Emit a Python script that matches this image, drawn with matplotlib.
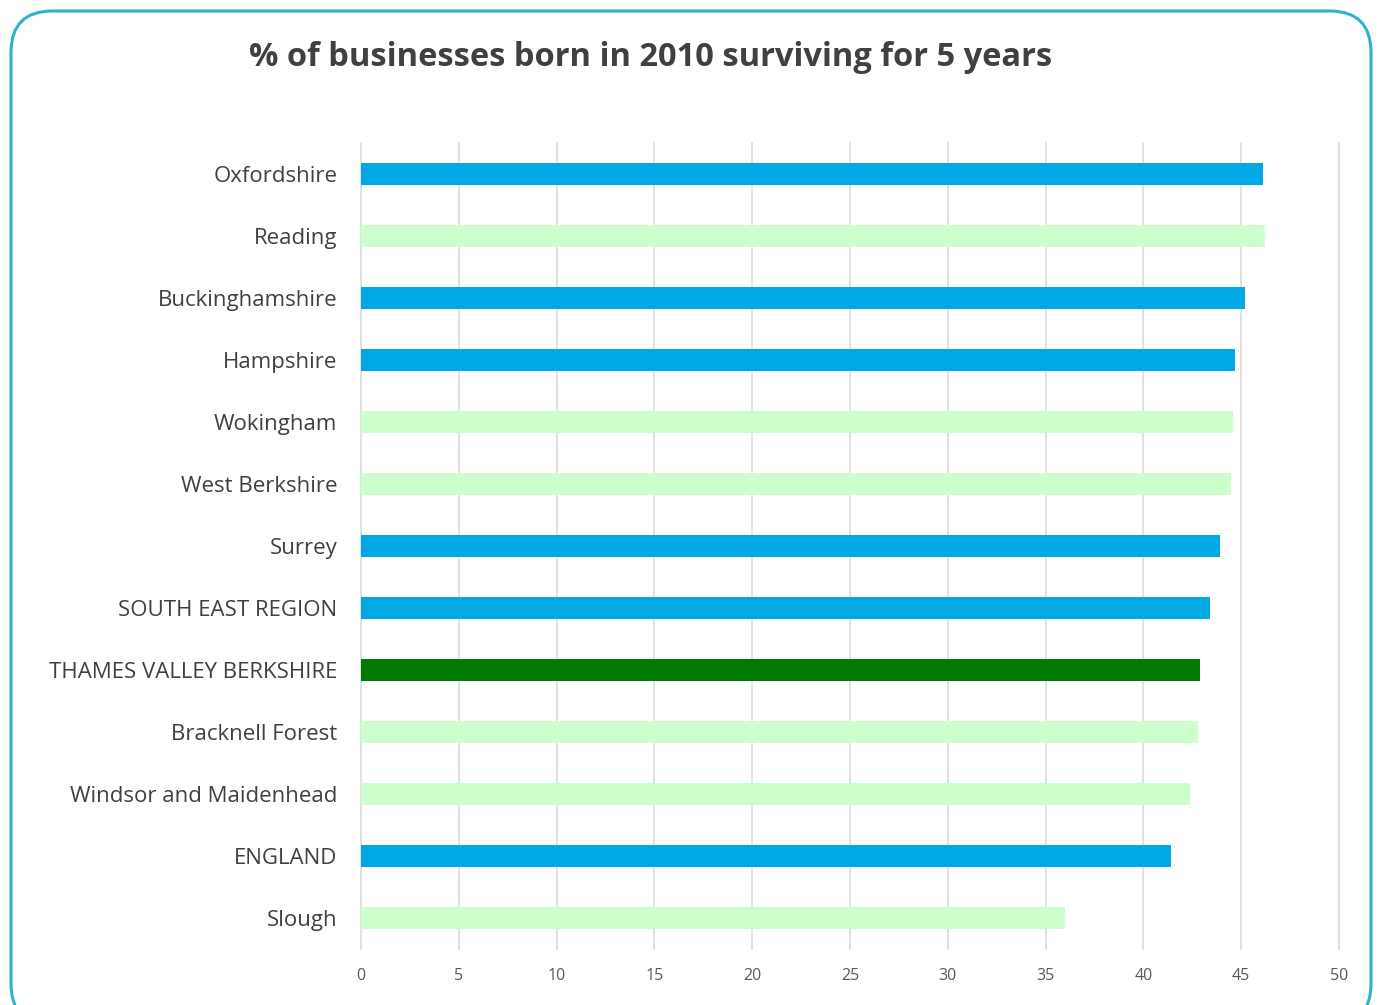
import matplotlib
matplotlib.use("Agg")
import matplotlib.pyplot as plt
from matplotlib.patches import FancyBboxPatch

categories = ["Oxfordshire", "Reading", "Buckinghamshire", "Hampshire", "Wokingham",
              "West Berkshire", "Surrey", "SOUTH EAST REGION", "THAMES VALLEY BERKSHIRE",
              "Bracknell Forest", "Windsor and Maidenhead", "ENGLAND", "Slough"]
values = [46.1, 46.2, 45.2, 44.7, 44.6, 44.5, 43.9, 43.4, 42.9, 42.8, 42.4, 41.4, 36.0]
groups = ["county", "berks", "county", "county", "berks", "berks", "county", "county",
          "tvb", "berks", "berks", "county", "berks"]
group_colors = {"county": "#00A8E6", "berks": "#CCFFCC", "tvb": "#007A00"}
xticks = [0, 5, 10, 15, 20, 25, 30, 35, 40, 45, 50]
title = "% of businesses born in 2010 surviving for 5 years"

plt.rcParams['font.family'] = ['Open Sans', 'DejaVu Sans']

fig = plt.figure(figsize=(13.8, 10.05), dpi=100)
fig.patch.set_facecolor("white")

border = FancyBboxPatch((11/1380, -0.02), (1371-11)/1380, (1-11/1005) + 0.02,
                        boxstyle="round,pad=0,rounding_size=0.03",
                        transform=fig.transFigure, facecolor="none",
                        edgecolor="#2BB3D1", linewidth=2.2, mutation_aspect=1380/1005)
fig.patches.append(border)

ax = fig.add_axes([361/1380, 1-949/1005, (1339-361)/1380, (949-143)/1005])
n = len(categories)
ypos = list(range(n))
ax.barh(ypos, values, height=0.36, color=[group_colors[g] for g in groups], zorder=3)
ax.set_ylim(n - 0.5, -0.5)
ax.set_xlim(0, 50)
ax.set_xticks(xticks)
ax.set_xticklabels([str(t) for t in xticks], fontsize=11.5, color="#595959")
ax.set_yticks(ypos)
ax.set_yticklabels(categories, fontsize=16, color="#404040")
ax.tick_params(axis="y", length=0, pad=17)
ax.tick_params(axis="x", length=0, pad=14)
ax.grid(axis="x", color="#DCDCDC", linewidth=1.2, zorder=0)
for line in ax.get_xgridlines():
    line.set_clip_on(False)
for s in ax.spines.values():
    s.set_visible(False)

fig.text(651/1380, 1-57/1005, title, ha="center", va="center", fontsize=23.5,
         fontweight="bold", color="#404040")

fig.savefig("out.png", dpi=100)
